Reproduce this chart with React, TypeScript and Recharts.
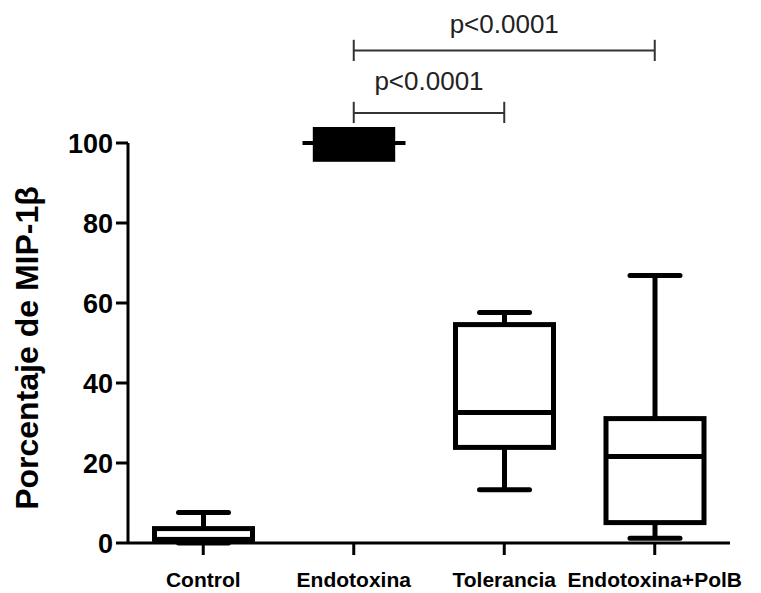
import React from 'react';
import { ComposedChart, Bar, XAxis, YAxis, ReferenceLine } from 'recharts';

// Box plot summary per group
const groups = ['Control', 'Endotoxina', 'Tolerancia', 'Endotoxina+PolB'];
const minValues = [0, 100, 13.3, 1.2];
const q1Values = [0.9, 95.3, 23.9, 5.1];
const medianValues = [0.9, 100, 32.6, 21.6];
const q3Values = [3.6, 104, 54.6, 31.1];
const maxValues = [7.6, 100, 57.6, 66.9];
const yTicks = [0, 20, 40, 60, 80, 100];

// significance brackets
const bracketFrom = ['Endotoxina', 'Endotoxina'];
const bracketTo = ['Tolerancia', 'Endotoxina+PolB'];
const bracketText = ['p<0.0001', 'p<0.0001'];
const bracketLevel = [107.5, 123.1];
const bracketTickTop = [110.3, 125.8];
const bracketTickBottom = [105, 120.5];

// groups where every value collapses into one solid block
const solidGroups = ['Endotoxina'];

const rows = groups.map((name, i) => ({
  name,
  min: minValues[i],
  q1: q1Values[i],
  median: medianValues[i],
  q3: q3Values[i],
  max: maxValues[i],
}));

const FONT = '"Liberation Sans", Arial, sans-serif';
const LINE = 5;

const BoxShape = (props: any) => {
  const { x, y, width, height, payload } = props;
  if (!payload || !height) return null;
  // bar spans 0..max, so its height gives the pixel scale
  const k = height / payload.max;
  const base = y + height;
  const py = (v: number) => base - v * k;
  const cx = x + width / 2;

  if (solidGroups.includes(payload.name)) {
    const w = width * 0.8;
    return (
      <g>
        <rect x={cx - w / 2} y={py(payload.q3)} width={w} height={py(payload.q1) - py(payload.q3)} fill="#000" />
        <line x1={x} x2={x + width} y1={py(payload.median)} y2={py(payload.median)} stroke="#000" strokeWidth={4} />
      </g>
    );
  }

  const capHalf = 25;
  return (
    <g stroke="#000" strokeWidth={LINE} fill="none">
      <line x1={cx} x2={cx} y1={py(payload.max)} y2={py(payload.q3)} />
      <line x1={cx} x2={cx} y1={py(payload.q1)} y2={py(payload.min)} />
      <line x1={cx - capHalf} x2={cx + capHalf} y1={py(payload.max)} y2={py(payload.max)} strokeLinecap="round" />
      <line x1={cx - capHalf} x2={cx + capHalf} y1={py(payload.min)} y2={py(payload.min)} strokeLinecap="round" />
      <rect
        x={x + LINE / 2}
        y={py(payload.q3)}
        width={width - LINE}
        height={py(payload.q1) - py(payload.q3)}
        fill="#fff"
      />
      <line x1={x + LINE / 2} x2={x + width - LINE / 2} y1={py(payload.median)} y2={py(payload.median)} />
    </g>
  );
};

const YLabel = ({ viewBox }: any) => {
  const lx = viewBox.x + 38;
  const ly = viewBox.y + viewBox.height / 2 + 5;
  return (
    <text
      x={lx}
      y={ly}
      transform={`rotate(-90, ${lx}, ${ly})`}
      textAnchor="middle"
      fontSize={32}
      fontWeight="bold"
      fontFamily={FONT}
      fill="#000"
    >
      Porcentaje de MIP-1β
    </text>
  );
};

export default function App() {
  return (
    <div style={{ position: 'absolute', left: 0, top: 0, background: '#fff' }}>
      <ComposedChart
        width={761}
        height={593}
        data={rows}
        margin={{ top: 143, right: 31, bottom: 0, left: 0 }}
      >
        <XAxis
          dataKey="name"
          height={50}
          axisLine={{ stroke: '#000', strokeWidth: 3 }}
          tickLine={{ stroke: '#000', strokeWidth: 3 }}
          tickSize={12}
          tickMargin={17}
          tick={{ fill: '#000', fontSize: 21, fontWeight: 'bold', fontFamily: FONT }}
        />
        <YAxis
          width={128}
          domain={[0, 100]}
          ticks={yTicks}
          axisLine={{ stroke: '#000', strokeWidth: 3 }}
          tickLine={{ stroke: '#000', strokeWidth: 3 }}
          tickSize={12}
          tickMargin={3}
          tick={{ fill: '#000', fontSize: 27, fontWeight: 'bold', fontFamily: FONT }}
          label={<YLabel />}
        />
        <Bar dataKey="max" barSize={103} shape={<BoxShape />} isAnimationActive={false} />
        {bracketText.map((text, i) => (
          <ReferenceLine
            key={`b-${i}`}
            segment={[
              { x: bracketFrom[i], y: bracketLevel[i] },
              { x: bracketTo[i], y: bracketLevel[i] },
            ]}
            ifOverflow="visible"
            stroke="#333"
            strokeWidth={2}
            label={{
              value: text,
              position: 'top',
              offset: i === 0 ? 23 : 17.5,
              fill: '#222',
              fontSize: 26,
              fontFamily: FONT,
            }}
          />
        ))}
        {bracketText.map((_, i) =>
          [bracketFrom[i], bracketTo[i]].map((g) => (
            <ReferenceLine
              key={`t-${i}-${g}`}
              segment={[
                { x: g, y: bracketTickBottom[i] },
                { x: g, y: bracketTickTop[i] },
              ]}
              ifOverflow="visible"
              stroke="#333"
              strokeWidth={2}
            />
          ))
        )}
      </ComposedChart>
    </div>
  );
}
